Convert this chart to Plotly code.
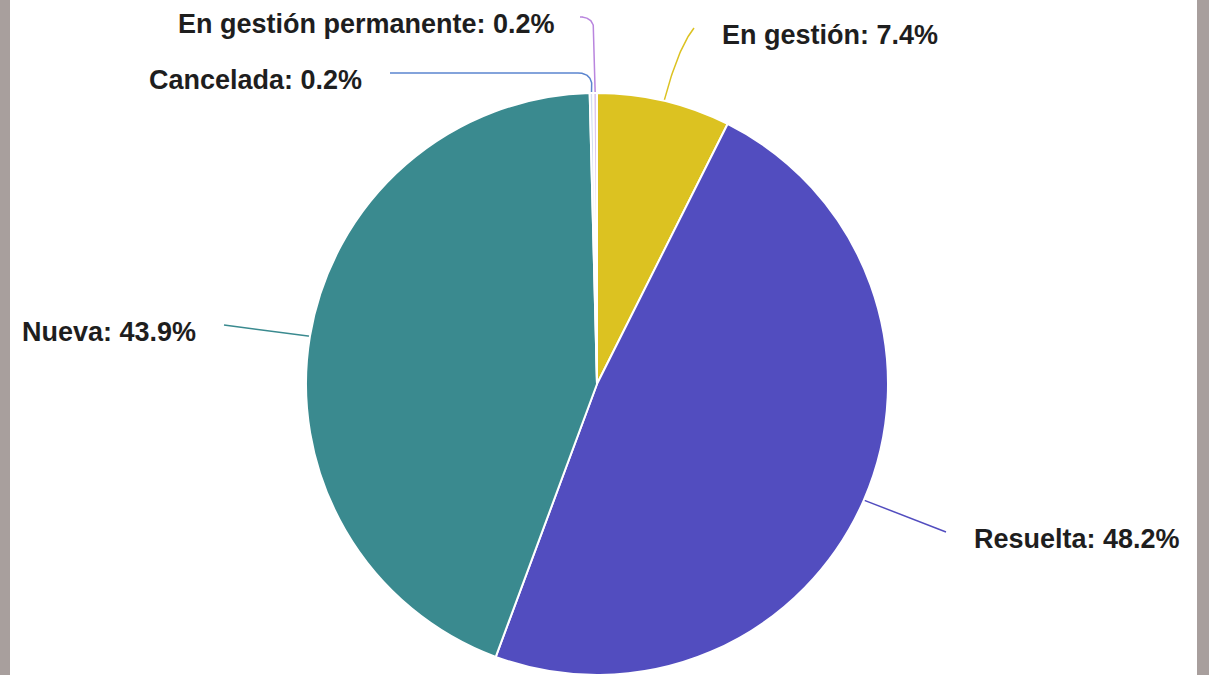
import math
import numpy as np
import plotly.graph_objects as go

# ---- data ----
labels = ["En gestión", "Resuelta", "Nueva", "Cancelada", "En gestión permanente"]
values = [7.4, 48.2, 43.9, 0.2, 0.2]
slice_colors = ["#DCC221", "#524DBF", "#3A8A8F", "#D3DEF3", "#DCC6EE"]
line_colors = ["#DCC221", "#524DBF", "#3A8A8F", "#5B85CF", "#B985DE"]

# ---- layout constants (pixels) ----
W, H = 1209, 675
CX, CY, R = 597, 384, 291
# leader-line end points and elbow points (layout)
line_end = {
    "En gestión": (694, 28),
    "Resuelta": (946, 532),
    "Nueva": (224, 325),
    "Cancelada": (390, 73),
    "En gestión permanente": (583, 17),
}
elbow = {
    "En gestión": (678, 48),
    "Resuelta": None,
    "Nueva": None,
    "Cancelada": (592, 73),
    "En gestión permanente": (594, 17),
}
label_side = {
    "En gestión": "left",
    "Resuelta": "left",
    "Nueva": "right",
    "Cancelada": "right",
    "En gestión permanente": "right",
}

fig = go.Figure()

fig.add_trace(go.Pie(
    labels=labels, values=values, sort=False, direction="clockwise",
    rotation=0, textinfo="none", hoverinfo="label+percent",
    marker=dict(colors=slice_colors, line=dict(color="white", width=2)),
    domain=dict(x=[(CX - R) / W, (CX + R) / W], y=[(H - CY - R) / H, (H - CY + R) / H]),
    showlegend=False,
))

total = sum(values)
cum = 0.0
annotations = []
for lab, v, lc in zip(labels, values, line_colors):
    mid = (cum + v / 2) / total * 2 * math.pi
    cum += v
    x0 = CX + R * math.sin(mid)
    y0 = CY - R * math.cos(mid)
    x2, y2 = line_end[lab]
    el = elbow[lab]
    if el is None:
        xs, ys = [x0, x2], [y0, y2]
    else:
        t = np.linspace(0, 1, 40)
        x1, y1 = el
        xs = list((1 - t) ** 2 * x0 + 2 * (1 - t) * t * x1 + t ** 2 * x2)
        ys = list((1 - t) ** 2 * y0 + 2 * (1 - t) * t * y1 + t ** 2 * y2)
        if lab in ("Cancelada", "En gestión permanente"):
            rr = 14
            ax, ay = x1, y1 + rr
            dx, dy = x2 - x1, y2 - y1
            dl = math.hypot(dx, dy)
            bx, by = x1 + dx / dl * rr, y1 + dy / dl * rr
            cx_ = (1 - t) ** 2 * ax + 2 * (1 - t) * t * x1 + t ** 2 * bx
            cy_ = (1 - t) ** 2 * ay + 2 * (1 - t) * t * y1 + t ** 2 * by
            xs = [x0] + list(cx_) + [x2]
            ys = [y0] + list(cy_) + [y2]
    fig.add_trace(go.Scatter(
        x=xs, y=ys, mode="lines", line=dict(color=lc, width=1.5),
        hoverinfo="skip", showlegend=False, xaxis="x", yaxis="y",
    ))
    pct = v / total * 100
    side = label_side[lab]
    annotations.append(dict(
        x=x2 + (26 if side == "left" else -26), y=y2 + 7, xref="x", yref="y",
        text=f"<b>{lab}: {pct:.1f}%</b>", showarrow=False,
        xanchor=side, yanchor="middle",
        font=dict(family="Liberation Sans, Arial, sans-serif", size=27, color="#1E1E1E"),
    ))

fig.update_layout(
    width=W, height=H, margin=dict(l=0, r=0, t=0, b=0),
    paper_bgcolor="white", plot_bgcolor="rgba(0,0,0,0)",
    xaxis=dict(range=[0, W], visible=False, domain=[0, 1], fixedrange=True),
    yaxis=dict(range=[H, 0], visible=False, domain=[0, 1], fixedrange=True),
    annotations=annotations,
    shapes=[
        dict(type="rect", xref="paper", yref="paper", x0=0, x1=10 / W, y0=0, y1=1,
             fillcolor="#A89F9D", line=dict(width=0), layer="above"),
        dict(type="rect", xref="paper", yref="paper", x0=1197 / W, x1=1, y0=0, y1=1,
             fillcolor="#A89F9D", line=dict(width=0), layer="above"),
    ],
)

fig.write_html(
    "out.html",
    config={"displayModeBar": False},
    post_script="document.body.style.margin='0';document.body.style.overflow='hidden';",
)
